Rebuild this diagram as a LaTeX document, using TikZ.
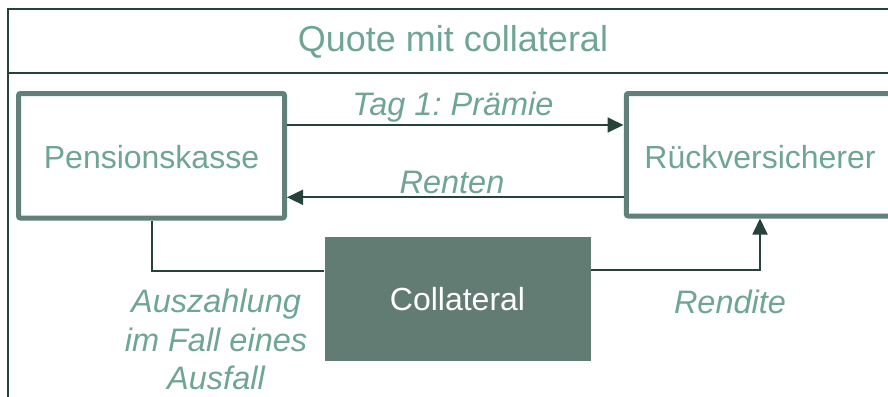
\documentclass[tikz,border=0pt]{standalone}
\usepackage{fontspec}
\setmainfont{Liberation Sans}
\usetikzlibrary{arrows.meta}
\frenchspacing
\definecolor{txtgreen}{HTML}{6FA593}
\definecolor{boxgreen}{HTML}{62807A}
\definecolor{darkline}{HTML}{27423A}
\definecolor{collfill}{HTML}{627C74}
\tikzset{
  frameline/.style={draw=darkline, line width=2pt},
  partybox/.style={draw=boxgreen, line width=5pt, rounded corners=2pt, inner sep=0pt, fill=white},
  conn/.style={draw=darkline, line width=1.8pt},
  arr/.style={conn, -{Triangle[length=16pt,width=15pt]}},
  lbl/.style={text=txtgreen, font=\fontsize{32.5}{38.5}\selectfont\itshape, inner sep=0pt, align=center},
  main/.style={text=txtgreen, font=\fontsize{32}{36}\selectfont, inner sep=0pt}
}
\begin{document}
\begin{tikzpicture}[x=1pt,y=-1pt]
\useasboundingbox (0,0) rectangle (888,396);
\clip (0,0) rectangle (888,396);
% frame
\coordinate (fbl) at (7.5,400);
\coordinate (ftl) at (7.5,9.5);
\coordinate (ftr) at (900,9.5);
\coordinate (fml) at (7.5,73);
\coordinate (fmr) at (900,73);
\draw[frameline] (fbl) -- (ftl) -- (ftr);
\draw[frameline] (fml) -- (fmr);
\node[main, font=\fontsize{36}{40}\selectfont] (title) at (453,42) {Quote mit collateral};
% boxes
\draw[partybox] (18.5,93.5) rectangle (284.5,218);
\node[main] (pk) at (151.5,157) {Pensionskasse};
\coordinate (pkR1) at (287,125);
\coordinate (pkR2) at (287,197.3);
\coordinate (pkB) at (152,220.5);
\draw[partybox] (626.3,93.5) rectangle (900,216);
\node[main] (rv) at (760,157) {Rückversicherer};
\coordinate (rvL1) at (623.5,125);
\coordinate (rvL2) at (623.5,197.3);
\coordinate (rvB) at (760,218.5);
\node[fill=collfill, minimum width=266pt, minimum height=124pt, inner sep=0pt, text=white, font=\fontsize{32}{36}\selectfont] (coll) at (457.5,299) {Collateral};
% connectors
\draw[arr] (pkR1) -- (rvL1);
\draw[arr] (rvL2) -- (pkR2);
\draw[conn] (pkB) |- (coll.west |- 0,271);
\draw[arr] (coll.east |- 0,270) -| (rvB);
% labels
\node[lbl] (l1) at (453,107) {Tag 1: Prämie};
\node[lbl] (l2) at (452,182) {Renten};
\node[lbl] (l3) at (216,339.5) {Auszahlung\\im Fall eines\\Ausfall};
\node[lbl] (l4) at (730,302) {Rendite};
\end{tikzpicture}
\end{document}
